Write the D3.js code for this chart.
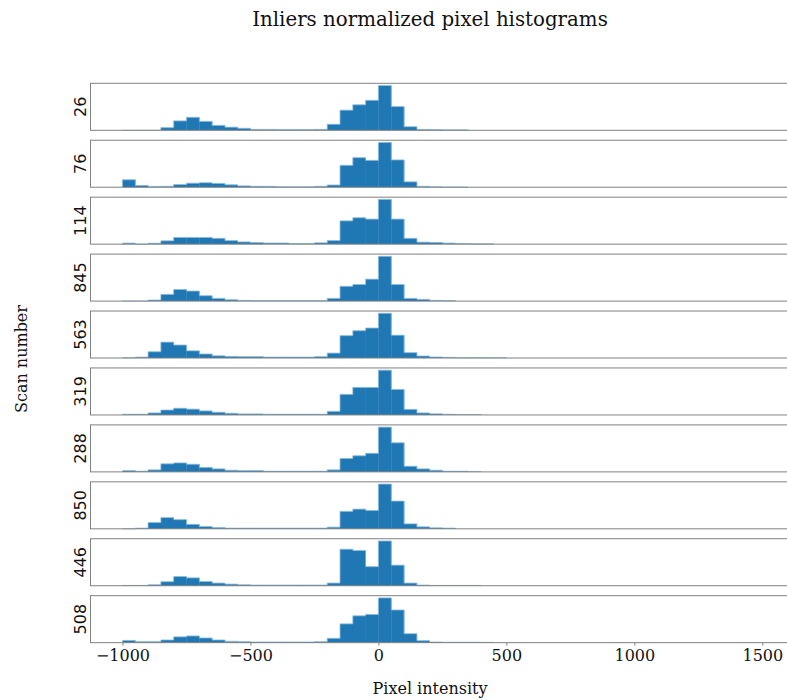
<!DOCTYPE html>
<html>
<head>
<meta charset="utf-8">
<script src="https://cdn.jsdelivr.net/npm/d3@7"></script>
<style>
  body { margin: 0; background: #fff; }
  svg { display: block; }
</style>
</head>
<body>
<div id="chart"></div>
<script>
// Data: counts per 50-wide bin from -1000 to 1500, scaled so each scan's peak = 100
const binStart = -1000
const binWidth = 50
const xTicks = [-1000, -500, 0, 500, 1000, 1500]
const scans = ['26', '76', '114', '845', '563', '319', '288', '850', '446', '508']

const h26 = [0, 0, 0, 6, 21, 29, 20, 11, 7, 4.5, 2, 2, 1.5, 1.5, 1.5, 2, 13.5, 45, 57, 67, 100, 53, 8, 2, 1.5, 1, 1]
const h76 = [16.7, 4, 1.5, 2, 6, 9, 10, 8.5, 5.5, 3, 2, 2, 1, 1, 1, 2, 5, 49, 66, 60, 100, 61, 12, 2, 1, 0.5, 0.5]
const h114 = [2.3, 0.3, 2, 7.5, 15, 15, 15, 13, 8, 5, 3.5, 2.5, 2.5, 1.5, 1.5, 3, 8, 52, 59, 56, 100, 56, 13, 4.5, 3.8, 2.3, 1.5, 0.8, 0.8]
const h845 = [0, 0, 2.3, 15, 26, 22.5, 12, 6, 3, 1.5, 1, 1, 1, 1, 1, 1, 6, 33, 37, 49, 100, 37, 6, 3.8, 1.5, 1]
const h563 = [0.7, 2, 14, 35.5, 29, 16, 9, 5, 3.7, 3, 3, 2, 2, 2, 2, 3, 11, 50, 61, 67, 100, 51, 12, 4.5, 2.2, 1.5, 0.7, 0.7, 0.7, 0.7]
const h319 = [1.5, 1.5, 4.5, 11, 15, 13, 9, 6, 3.7, 2.2, 2.2, 1.5, 1.5, 1.5, 1.5, 1.5, 8, 46, 61.5, 61.5, 100, 57, 12.5, 4.5, 2.5, 1.5, 1, 1]
const h288 = [3, 1.5, 4.5, 18, 20, 17, 10, 6.7, 3.7, 3, 3, 1.5, 1.5, 1.5, 1.5, 1.5, 4.5, 30, 36, 41.5, 100, 65, 12.6, 6.7, 3.7, 1.5, 1.5, 0.7]
const h850 = [0, 1.5, 14, 25, 20.5, 10, 5, 3, 1.5, 1.5, 1.5, 1.5, 1.5, 1.5, 1.5, 1.5, 3.7, 39, 44, 41, 100, 62, 11, 4.4, 2.2, 1.5]
const h446 = [0.7, 0.7, 2.2, 9, 20.5, 17.6, 9.5, 6, 3.7, 2.2, 1.5, 1.5, 1.5, 1.5, 1.5, 1.5, 6, 81.6, 78.7, 42.6, 100, 46, 6, 1.5, 0.7, 0.7, 0.7, 0.7]
const h508 = [5, 2.2, 2.2, 6, 13, 15, 10.5, 6, 3, 2.2, 1.5, 1.5, 1.5, 1.5, 1.5, 2.2, 9.7, 42, 60, 63, 100, 73, 20, 4.5, 1.5, 1, 1, 1, 0.7]

const heights = [h26, h76, h114, h845, h563, h319, h288, h850, h446, h508]

// Dimensions
const dimensions = {
  width: 787,
  height: 700,
  left: 90.5,
  right: 794.3,
  top: 83.3,
  panelHeight: 47,
  panelStep: 56.93,
}

const svg = d3.select('#chart')
  .append('svg')
  .attr('width', dimensions.width)
  .attr('height', dimensions.height)

// Scales
const xScale = d3.scaleLinear()
  .domain([-1125, 1625])
  .range([dimensions.left, dimensions.right])

const serif = "'DejaVu Serif', serif"
const sans = "'DejaVu Sans', sans-serif"

scans.forEach((scan, i) => {
  const y0 = dimensions.top + i * dimensions.panelStep
  const vals = heights[i]
  const bins = vals.map((v, k) => ({ x0: binStart + k * binWidth, x1: binStart + (k + 1) * binWidth, v }))

  const yScale = d3.scaleLinear()
    .domain([0, d3.max(vals) * 1.05])
    .range([y0 + dimensions.panelHeight, y0])

  const g = svg.append('g')

  g.selectAll('rect')
    .data(bins.filter(d => d.v > 0))
    .join('rect')
    .attr('x', d => xScale(d.x0))
    .attr('width', d => xScale(d.x1) - xScale(d.x0) + 0.3)
    .attr('y', d => yScale(d.v))
    .attr('height', d => yScale(0) - yScale(d.v))
    .attr('fill', '#1f77b4')

  // light outline on the step shape
  const outline = bins.map(d => [d.x0, d.v]).concat([[bins[bins.length - 1].x1, 0]])
  g.append('path')
    .datum(outline)
    .attr('d', d3.line()
      .x(d => xScale(d[0]))
      .y(d => yScale(d[1]))
      .curve(d3.curveStepAfter))
    .attr('fill', 'none')
    .attr('stroke', '#8dbbdc')
    .attr('stroke-width', 0.8)

  // frame
  g.append('rect')
    .attr('x', dimensions.left)
    .attr('y', y0)
    .attr('width', dimensions.right - dimensions.left)
    .attr('height', dimensions.panelHeight)
    .attr('fill', 'none')
    .attr('stroke', '#808080')
    .attr('stroke-width', 1)

  // scan label
  g.append('text')
    .attr('transform', `translate(86, ${y0 + dimensions.panelHeight / 2}) rotate(-90)`)
    .attr('text-anchor', 'middle')
    .style('font-family', sans)
    .style('font-size', '16px')
    .attr('fill', '#111')
    .text(scan)

  // bottom axis only on last panel
  if (i === scans.length - 1) {
    const xAxis = d3.axisBottom(xScale)
      .tickValues(xTicks)
      .tickSize(3)
      .tickPadding(4)
      .tickFormat(d3.format('d'))

    const xAxisGroup = g.append('g')
      .attr('transform', `translate(0, ${y0 + dimensions.panelHeight})`)
      .call(xAxis)

    xAxisGroup.select('.domain').remove()
    xAxisGroup.selectAll('line').attr('stroke', '#808080')
    xAxisGroup.selectAll('text')
      .style('font-family', serif)
      .style('font-size', '16px')
      .attr('fill', '#111')
  }
})

// Title
svg.append('text')
  .attr('x', 430)
  .attr('y', 26)
  .attr('text-anchor', 'middle')
  .style('font-family', serif)
  .style('font-size', '19.8px')
  .attr('fill', '#111')
  .text('Inliers normalized pixel histograms')

// Axis labels
svg.append('text')
  .attr('x', 430)
  .attr('y', 694)
  .attr('text-anchor', 'middle')
  .style('font-family', serif)
  .style('font-size', '16px')
  .attr('fill', '#111')
  .text('Pixel intensity')

svg.append('text')
  .attr('transform', 'translate(26.5, 359) rotate(-90)')
  .attr('text-anchor', 'middle')
  .style('font-family', serif)
  .style('font-size', '16px')
  .attr('fill', '#111')
  .text('Scan number')
</script>
</body>
</html>
